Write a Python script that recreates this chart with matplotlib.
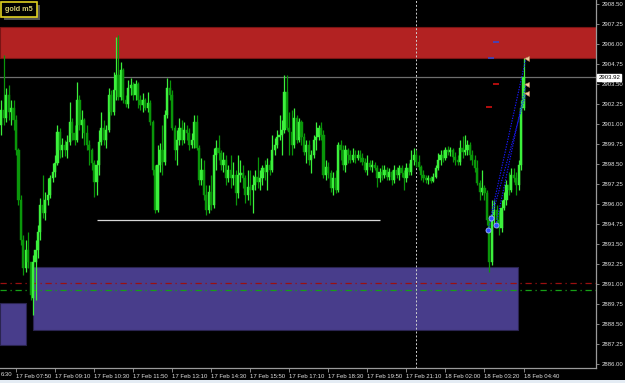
import matplotlib
matplotlib.use("Agg")
import matplotlib.pyplot as plt
from matplotlib.patches import Rectangle
from matplotlib.transforms import blended_transform_factory

# ---------------- data (gold M5) ----------------
opens = [2900.94, 2901.88, 2901.38, 2902.81, 2901.75, 2902.00, 2901.25, 2899.38, 2896.25, 2893.75,
         2892.00, 2893.13, 2892.38, 2890.13, 2892.38, 2893.13, 2894.25, 2895.94, 2895.44, 2896.25,
         2896.56, 2897.63, 2898.00, 2898.56, 2900.50, 2899.38, 2899.69, 2899.38, 2899.88, 2901.13,
         2900.44, 2900.00, 2902.50, 2900.94, 2901.25, 2900.44, 2899.69, 2899.38, 2898.56, 2897.38,
         2898.44, 2899.88, 2900.75, 2900.00, 2900.63, 2902.81, 2901.75, 2903.13, 2904.06, 2902.69,
         2904.38, 2902.50, 2902.25, 2903.25, 2903.44, 2902.81, 2903.50, 2902.50, 2902.19, 2902.50,
         2902.00, 2902.31, 2901.13, 2898.13, 2895.63, 2898.44, 2899.38, 2898.63, 2901.56, 2903.25,
         2902.81, 2900.75, 2899.38, 2900.00, 2900.75, 2900.00, 2900.63, 2900.44, 2899.69, 2900.00,
         2901.13, 2899.50, 2897.50, 2898.13, 2896.56, 2895.63, 2896.75, 2895.94, 2899.06, 2899.50,
         2899.19, 2898.44, 2898.75, 2897.63, 2898.13, 2897.63, 2897.81, 2896.69, 2897.81, 2897.94,
         2897.63, 2896.56, 2897.06, 2896.88, 2897.19, 2897.69, 2897.38, 2897.63, 2898.25, 2898.00,
         2898.44, 2898.13, 2899.38, 2899.69, 2900.19, 2900.31, 2900.63, 2903.00, 2900.75, 2900.50,
         2899.69, 2901.38, 2900.00, 2901.13, 2900.19, 2899.25, 2899.69, 2898.75, 2899.06, 2900.00,
         2900.19, 2900.75, 2900.31, 2897.81, 2898.31, 2897.94, 2897.00, 2897.63, 2896.88, 2899.69,
         2899.38, 2898.44, 2899.38, 2899.06, 2898.75, 2899.06, 2898.88, 2899.06, 2898.88, 2898.63,
         2898.13, 2898.56, 2898.31, 2898.44, 2898.25, 2897.63, 2898.00, 2897.81, 2898.13, 2897.69,
         2898.00, 2897.50, 2898.13, 2897.81, 2898.25, 2897.94, 2897.63, 2898.25, 2898.00, 2898.75,
         2899.06, 2898.63, 2898.31, 2897.81, 2897.63, 2897.50, 2897.63, 2897.44, 2897.69, 2898.25,
         2898.75, 2899.06, 2898.88, 2899.38, 2899.25, 2899.38, 2898.94, 2898.75, 2898.63, 2899.50,
         2899.25, 2899.38, 2899.69, 2899.06, 2898.75, 2898.25, 2897.31, 2896.75, 2897.00, 2896.69,
         2895.00, 2892.38, 2895.31, 2895.63, 2895.00, 2894.50, 2895.75, 2896.25, 2897.19, 2896.88,
         2897.81, 2897.63, 2897.19, 2898.44, 2902.00]
highs = [2902.50, 2905.31, 2903.25, 2903.44, 2902.50, 2902.50, 2901.56, 2899.50, 2896.56, 2894.06,
         2893.75, 2894.25, 2892.38, 2892.81, 2893.75, 2894.69, 2896.38, 2897.81, 2896.75, 2897.63,
         2897.81, 2898.56, 2899.06, 2900.94, 2900.75, 2900.13, 2900.00, 2900.31, 2902.38, 2901.38,
         2900.94, 2903.63, 2902.81, 2901.88, 2901.38, 2900.94, 2900.00, 2899.50, 2898.75, 2898.75,
         2900.63, 2901.75, 2901.25, 2900.94, 2903.25, 2903.13, 2904.25, 2906.44, 2906.56, 2904.88,
         2904.50, 2902.81, 2903.75, 2903.88, 2903.63, 2903.75, 2903.63, 2902.81, 2902.94, 2902.63,
         2903.00, 2902.50, 2901.25, 2898.44, 2899.69, 2899.81, 2900.94, 2901.88, 2903.88, 2903.75,
         2903.13, 2900.94, 2900.63, 2901.38, 2901.25, 2901.13, 2900.94, 2900.75, 2900.44, 2901.56,
         2901.56, 2899.69, 2898.88, 2898.75, 2897.19, 2897.19, 2897.81, 2899.50, 2900.00, 2900.31,
         2899.38, 2899.25, 2899.06, 2898.44, 2899.06, 2898.63, 2898.13, 2899.06, 2898.75, 2898.44,
         2897.81, 2898.13, 2898.13, 2897.81, 2898.13, 2898.94, 2898.13, 2898.44, 2898.75, 2898.88,
         2898.75, 2900.31, 2900.13, 2900.63, 2901.56, 2901.25, 2904.06, 2904.06, 2901.75, 2901.88,
         2902.00, 2901.56, 2901.38, 2901.25, 2900.44, 2900.00, 2900.00, 2899.38, 2900.31, 2901.13,
         2900.94, 2901.13, 2900.63, 2898.75, 2898.63, 2898.13, 2898.00, 2898.13, 2899.88, 2900.00,
         2899.69, 2899.69, 2899.50, 2899.38, 2899.50, 2899.38, 2899.38, 2899.38, 2899.19, 2898.88,
         2899.06, 2898.75, 2898.75, 2898.63, 2898.44, 2898.25, 2898.44, 2898.44, 2898.31, 2898.25,
         2898.13, 2898.44, 2898.31, 2898.44, 2898.44, 2898.13, 2898.56, 2898.56, 2899.38, 2899.50,
         2899.38, 2899.06, 2898.44, 2898.13, 2897.81, 2897.81, 2897.75, 2897.94, 2898.44, 2899.19,
         2899.38, 2899.38, 2899.56, 2899.63, 2899.56, 2899.50, 2899.25, 2899.06, 2900.00, 2900.25,
         2900.31, 2900.00, 2899.88, 2899.38, 2899.06, 2898.75, 2897.50, 2898.13, 2897.19, 2896.88,
         2895.31, 2896.25, 2896.25, 2895.94, 2895.63, 2896.25, 2896.75, 2897.50, 2898.00, 2898.25,
         2898.25, 2898.00, 2898.75, 2902.50, 2905.13]
lows = [2900.31, 2900.94, 2901.13, 2901.25, 2900.94, 2900.63, 2899.06, 2895.94, 2893.44, 2891.56,
        2891.75, 2892.00, 2890.00, 2889.06, 2890.00, 2892.63, 2893.75, 2895.13, 2895.00, 2895.94,
        2896.38, 2897.38, 2897.69, 2898.44, 2898.88, 2898.94, 2899.00, 2898.88, 2899.69, 2900.00,
        2899.69, 2899.88, 2900.63, 2900.13, 2899.69, 2899.38, 2898.44, 2898.13, 2896.44, 2896.56,
        2897.81, 2899.69, 2899.69, 2899.50, 2900.50, 2901.56, 2901.56, 2902.50, 2902.50, 2902.50,
        2902.31, 2902.06, 2902.00, 2902.81, 2902.50, 2902.50, 2902.00, 2901.88, 2901.75, 2901.88,
        2901.75, 2900.94, 2897.81, 2895.44, 2895.50, 2898.00, 2897.81, 2898.44, 2901.38, 2902.50,
        2900.63, 2898.75, 2898.44, 2899.69, 2899.69, 2899.81, 2900.00, 2899.38, 2899.50, 2899.50,
        2899.38, 2897.19, 2897.19, 2896.25, 2895.31, 2895.44, 2895.63, 2895.75, 2898.13, 2898.75,
        2898.13, 2898.00, 2897.19, 2897.38, 2897.00, 2897.19, 2895.94, 2896.38, 2897.38, 2897.00,
        2896.06, 2896.25, 2895.94, 2895.44, 2896.88, 2897.00, 2896.88, 2897.19, 2897.50, 2896.88,
        2897.81, 2898.00, 2899.06, 2899.50, 2900.00, 2899.06, 2900.44, 2900.63, 2899.06, 2899.06,
        2899.50, 2899.81, 2899.88, 2899.69, 2899.06, 2898.56, 2898.44, 2897.94, 2898.88, 2899.38,
        2900.00, 2900.00, 2897.63, 2897.50, 2897.63, 2896.75, 2896.56, 2896.69, 2896.75, 2898.75,
        2898.13, 2898.00, 2898.56, 2898.56, 2898.63, 2898.56, 2898.75, 2898.63, 2898.44, 2898.00,
        2897.81, 2898.13, 2898.00, 2898.13, 2897.06, 2897.38, 2897.50, 2897.63, 2897.50, 2897.50,
        2897.19, 2897.31, 2897.63, 2897.50, 2897.69, 2896.88, 2897.38, 2897.81, 2897.81, 2898.44,
        2898.31, 2898.13, 2897.50, 2897.38, 2897.31, 2897.25, 2897.31, 2897.38, 2897.63, 2898.13,
        2898.44, 2898.63, 2898.75, 2899.06, 2899.00, 2898.63, 2898.44, 2898.44, 2898.44, 2898.88,
        2899.06, 2899.06, 2898.75, 2898.44, 2898.00, 2897.19, 2896.25, 2896.56, 2896.25, 2894.69,
        2891.75, 2892.19, 2894.69, 2894.50, 2894.06, 2894.25, 2895.63, 2895.94, 2896.56, 2896.75,
        2897.38, 2896.56, 2896.88, 2898.13, 2901.88]
closes = [2901.88, 2901.38, 2902.81, 2901.75, 2902.00, 2901.25, 2899.38, 2896.25, 2893.75, 2892.00,
          2893.13, 2892.38, 2890.31, 2892.38, 2893.13, 2894.25, 2895.94, 2895.44, 2896.25, 2896.56,
          2897.63, 2898.00, 2898.56, 2900.50, 2899.38, 2899.69, 2899.38, 2899.88, 2901.13, 2900.44,
          2900.00, 2902.50, 2900.94, 2901.25, 2900.44, 2899.69, 2899.38, 2898.56, 2897.38, 2898.44,
          2899.88, 2900.75, 2900.00, 2900.63, 2902.81, 2901.75, 2903.13, 2904.06, 2902.69, 2904.38,
          2902.50, 2902.25, 2903.25, 2903.44, 2902.81, 2903.50, 2902.50, 2902.19, 2902.50, 2902.00,
          2902.31, 2901.13, 2898.13, 2895.63, 2898.44, 2899.38, 2898.63, 2901.56, 2903.25, 2902.81,
          2900.75, 2899.38, 2900.00, 2900.75, 2900.00, 2900.63, 2900.44, 2899.69, 2900.00, 2901.13,
          2899.50, 2897.50, 2898.13, 2896.56, 2895.63, 2896.75, 2895.94, 2899.06, 2899.50, 2899.19,
          2898.44, 2898.75, 2897.63, 2898.13, 2897.63, 2897.81, 2896.69, 2897.81, 2897.94, 2897.63,
          2896.56, 2897.06, 2896.88, 2897.19, 2897.69, 2897.38, 2897.63, 2898.25, 2898.00, 2898.44,
          2898.13, 2899.38, 2899.69, 2900.19, 2900.31, 2900.63, 2903.00, 2900.75, 2900.50, 2899.69,
          2901.38, 2900.00, 2901.13, 2900.19, 2899.25, 2899.69, 2898.75, 2899.06, 2900.00, 2900.19,
          2900.75, 2900.31, 2897.81, 2898.31, 2897.94, 2897.00, 2897.63, 2896.88, 2899.69, 2899.38,
          2898.44, 2899.38, 2899.06, 2898.75, 2899.06, 2898.88, 2899.06, 2898.88, 2898.63, 2898.13,
          2898.56, 2898.31, 2898.44, 2898.25, 2897.63, 2898.00, 2897.81, 2898.13, 2897.69, 2898.00,
          2897.50, 2898.13, 2897.81, 2898.25, 2897.94, 2897.63, 2898.25, 2898.00, 2898.75, 2899.06,
          2898.63, 2898.31, 2897.81, 2897.63, 2897.50, 2897.63, 2897.44, 2897.69, 2898.25, 2898.75,
          2899.06, 2898.88, 2899.38, 2899.25, 2899.38, 2898.94, 2898.75, 2898.63, 2899.50, 2899.25,
          2899.38, 2899.69, 2899.06, 2898.75, 2898.25, 2897.31, 2896.75, 2897.00, 2896.69, 2895.00,
          2892.38, 2895.31, 2895.63, 2895.00, 2894.50, 2895.75, 2896.25, 2897.19, 2896.88, 2897.81,
          2897.63, 2897.19, 2898.44, 2902.00, 2903.92]

tick_bars = [6, 22, 38, 54, 70, 86, 102, 118, 134, 150, 166, 182, 198, 214]
tick_labels = ["17 Feb 07:50", "17 Feb 09:10", "17 Feb 10:30", "17 Feb 11:50",
               "17 Feb 13:10", "17 Feb 14:30", "17 Feb 15:50", "17 Feb 17:10", "17 Feb 18:30",
               "17 Feb 19:50", "17 Feb 21:10", "18 Feb 02:00", "18 Feb 03:20", "18 Feb 04:40"]
first_label = "6:30"   # visible tail of "17 Feb 06:30" at the left edge
price_ticks = [2886.00, 2887.25, 2888.50, 2889.75, 2891.00, 2892.25, 2893.50, 2894.75,
               2896.00, 2897.25, 2898.50, 2899.75, 2901.00, 2902.25, 2903.50, 2904.75,
               2906.00, 2907.25, 2908.50]

current_price = 2903.92
supply_zone = [2905.12, 2907.06]
demand_zone = [2888.13, 2892.06]
demand_bars = [12.97, 211.7]
old_zone = [2887.19, 2889.80]
old_zone_bars = [-0.6, 10.1]
red_level = 2891.06
green_level = 2890.62
range_low = 2895.00
range_bars = [39.2, 155.2]
session_bar = 170
entry_bars = [200.5, 202.7, 199.5]
entry_prices = [2895.13, 2894.69, 2894.38]
exit_bar = 215
exit_prices = [2905.13, 2903.50, 2902.94]
tp_marks_bars = [202.7, 200.8]
tp_marks = [2906.13, 2905.13]
sl_marks_bars = [202.7, 199.8]
sl_marks = [2903.50, 2902.06]

# ---------------- figure ----------------
W, H = 625, 383
fig = plt.figure(figsize=(W / 100, H / 100), dpi=100, facecolor="black")
ax = fig.add_axes([0, 1 - 367.7 / H, 596 / W, 367.7 / H])
ax.set_facecolor("black")

FONT = "Liberation Sans"
FS = 4.3
LBL = "#e0e0e0"

# zones
ax.axhspan(supply_zone[0], supply_zone[1], facecolor="#b22222", edgecolor="#7a1414", lw=0.8, zorder=1)
ax.add_patch(Rectangle((demand_bars[0], demand_zone[0]), demand_bars[1] - demand_bars[0],
                       demand_zone[1] - demand_zone[0], facecolor="#483d8b",
                       edgecolor="#2a2450", lw=0.8, zorder=1))
ax.add_patch(Rectangle((old_zone_bars[0], old_zone[0]), old_zone_bars[1] - old_zone_bars[0],
                       old_zone[1] - old_zone[0], facecolor="#483d8b",
                       edgecolor="#2a2450", lw=0.8, zorder=1))

# levels
ax.axhline(red_level, color="#9a1010", lw=0.9, ls=(0, (5, 3, 1, 3)), zorder=2)
ax.axhline(green_level, color="#16a016", lw=0.9, ls=(0, (5, 3, 1, 3)), zorder=2)
ax.axhline(current_price, color="#6e6e6e", lw=0.9, zorder=2)
ax.hlines(range_low, range_bars[0], range_bars[1], color="#d8d8d8", lw=0.9, zorder=2)
ax.axvline(session_bar, color="#cfcfcf", lw=0.7, ls=(0, (2, 2)), zorder=2)

# candles
n = len(closes)
pos = list(range(n))
up_col, dn_col = "#3cf03c", "#0a960a"
cols = [up_col if c >= o else dn_col for o, c in zip(opens, closes)]
ax.vlines(pos, lows, highs, colors=cols, lw=0.9, zorder=3)
bottoms = [min(o, c) for o, c in zip(opens, closes)]
heights = [abs(c - o) for o, c in zip(opens, closes)]
ax.bar(pos, heights, bottom=bottoms, width=0.9, color=cols, edgecolor=cols, lw=0.3, zorder=4)

# trades
for xb, pe, px in zip(entry_bars, entry_prices, exit_prices):
    ax.plot([xb, exit_bar], [pe, px], color="#1a1aff", lw=0.8, ls=(0, (1.2, 1.2)), zorder=5)
ax.plot(entry_bars, entry_prices, "o", ms=3.6, mfc="#3050ff", mec="#a0b0ff", mew=0.6, ls="none", zorder=6)
ax.plot([exit_bar] * len(exit_prices), exit_prices, "<", ms=3.6, mfc="#f0c8a0", mec="#c08050",
        mew=0.4, ls="none", zorder=6)
ax.plot(tp_marks_bars, tp_marks, "_", ms=4, color="#3848c8", mew=1.2, ls="none", zorder=5)
ax.plot(sl_marks_bars, sl_marks, "_", ms=4, color="#d01010", mew=1.2, ls="none", zorder=5)

# axes
for s in ["top", "left"]:
    ax.spines[s].set_visible(False)
for s in ["right", "bottom"]:
    ax.spines[s].set_color("#9a9a9a")
    ax.spines[s].set_linewidth(0.9)

ax.yaxis.tick_right()
ax.set_yticks(price_ticks)
ax.set_yticklabels([f"{p:.2f}" for p in price_ticks], fontsize=FS, family=FONT, color=LBL)
ax.tick_params(axis="y", direction="out", length=2.5, width=0.6, color="#9a9a9a", pad=1.5)

ax.set_xticks(tick_bars)
ax.set_xticklabels(tick_labels, fontsize=FS, family=FONT, color=LBL)
for lbl in ax.get_xticklabels():
    lbl.set_horizontalalignment("left")
ax.tick_params(axis="x", direction="out", length=3, width=0.6, color="#9a9a9a", pad=1.5)

ax.set_xlim(-0.557, 243.7)
ax.set_ylim(2908.75 - 367.7 / 16, 2908.75)

# left-edge time label tail
ax.text(0.0005, -0.0125, first_label, transform=ax.transAxes, fontsize=FS, family=FONT,
        color=LBL, ha="left", va="top", clip_on=False)

# current price label
tr = blended_transform_factory(ax.transAxes, ax.transData)
ax.text(1.004, current_price, f"{current_price:.2f}", transform=tr, fontsize=FS, family=FONT,
        color="black", va="center", ha="left",
        bbox=dict(boxstyle="square,pad=0.15", facecolor="white", edgecolor="white"), zorder=10,
        clip_on=False)

# symbol badge
fig.patches.append(Rectangle((4 / W, 1 - 20 / H), 36 / W, 15 / H, transform=fig.transFigure,
                             facecolor="#505050", edgecolor="none", zorder=20))
fig.patches.append(Rectangle((1 / W, 1 - 17 / H), 36 / W, 15 / H, transform=fig.transFigure,
                             facecolor="black", edgecolor="#e0d020", lw=1.2, zorder=21))
fig.text(19 / W, 1 - 9.5 / H, "gold m5", fontsize=5.2, family=FONT, color="#d8d070",
         weight="bold", ha="center", va="center", zorder=22)

# bottom frame strip
fig.patches.append(Rectangle((0, 0), 1, 3.5 / H, transform=fig.transFigure,
                             facecolor="#e4ecf4", edgecolor="none", zorder=20))

fig.savefig("out.png", dpi=100, facecolor="black")
